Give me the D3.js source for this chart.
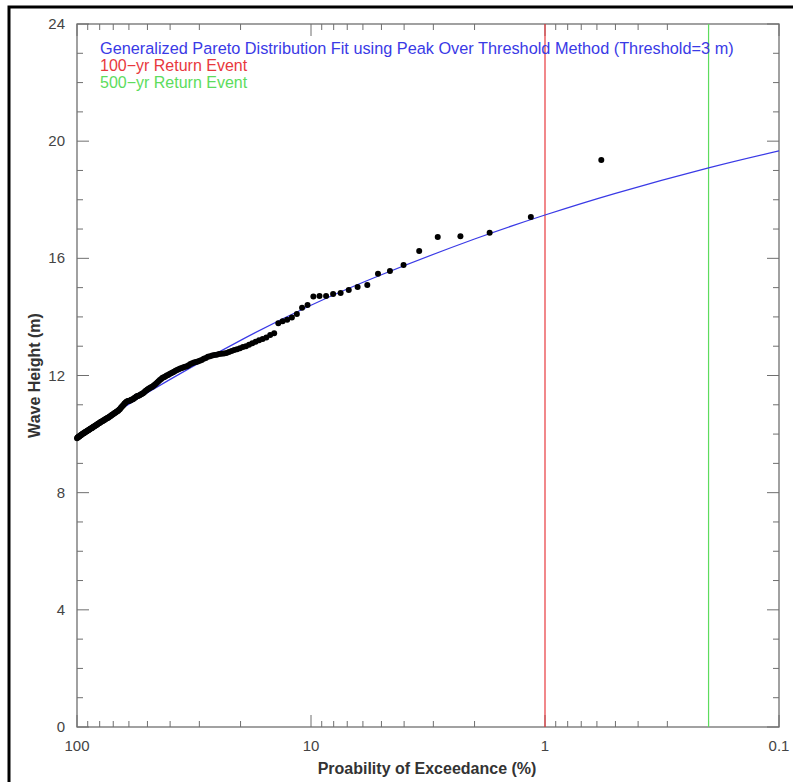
<!DOCTYPE html>
<html>
<head>
<meta charset="utf-8">
<script src="https://cdn.jsdelivr.net/npm/d3@7"></script>
<style>
  body { margin: 0; background: #fff; }
  text { font-family: "Liberation Sans", Arial, Helvetica, sans-serif; }
</style>
</head>
<body>
<div id="chart"></div>
<script>
// observed wave heights (m), sorted from largest to smallest (rank 1 = largest)
var heights = [
  19.36, 17.41, 16.87, 16.75, 16.73, 16.25, 15.77, 15.57, 15.47, 15.09,
  15.02, 14.92, 14.82, 14.78, 14.71, 14.71, 14.70, 14.41, 14.31,
  14.10, 13.98, 13.90, 13.85, 13.78,
  13.44, 13.38, 13.30, 13.25, 13.20, 13.15,
  13.10, 13.05, 13.00, 12.97, 12.93,
  12.90, 12.87, 12.84, 12.80, 12.77,
  12.75, 12.74, 12.73, 12.71, 12.70,
  12.68, 12.66, 12.64, 12.60, 12.57,
  12.53, 12.50, 12.48, 12.46, 12.44, 12.42, 12.39, 12.35, 12.32, 12.30,
  12.28, 12.26, 12.24, 12.21, 12.19,
  12.16, 12.13, 12.10, 12.08, 12.05,
  12.02, 12.00, 11.97, 11.94, 11.92, 11.88, 11.85,
  11.80, 11.76, 11.72, 11.68, 11.65, 11.62, 11.60,
  11.57, 11.55, 11.52, 11.49, 11.46, 11.42, 11.39,
  11.37, 11.35, 11.33, 11.31, 11.30, 11.28, 11.25, 11.23,
  11.20, 11.18, 11.17, 11.15, 11.14, 11.13, 11.12, 11.10,
  11.07, 11.04, 11.00, 10.97, 10.93, 10.90, 10.86, 10.83, 10.80,
  10.78, 10.76, 10.74, 10.72, 10.70, 10.68, 10.66, 10.64, 10.62, 10.60,
  10.58, 10.56, 10.55, 10.53, 10.52, 10.50, 10.48, 10.47, 10.45, 10.44, 10.42,
  10.41, 10.39, 10.37, 10.36, 10.34, 10.32, 10.31, 10.29, 10.28, 10.26, 10.25,
  10.23, 10.21, 10.20, 10.19, 10.17, 10.16, 10.14, 10.13, 10.11, 10.10, 10.09, 10.07,
  10.06, 10.04, 10.03, 10.02, 10.00, 9.99, 9.97, 9.96, 9.94, 9.92, 9.91, 9.90, 9.88, 9.86
];

// fitted GPD curve: exceedance (%) and height (m)
var fitProb   = [100, 50, 20, 10, 5, 2, 1, 0.5, 0.2, 0.1];
var fitHeight = [9.85, 11.41, 13.2, 14.4, 15.44, 16.66, 17.48, 18.22, 19.09, 19.67];

// return events (% exceedance)
var returnEvents = [
  {label: "100\u2212yr Return Event", prob: 1, color: "#e8383d"},
  {label: "500\u2212yr Return Event", prob: 0.2, color: "#5ddc5d"}
];
var fitLabel = "Generalized Pareto Distribution Fit using Peak Over Threshold Method (Threshold=3 m)";

var xTickValues = [100, 10, 1, 0.1];
var yTickValues = [0, 4, 8, 12, 16, 20, 24];

var width = 793, height = 782;
var plotL = 77, plotR = 779, plotT = 24, plotB = 727;

var svg = d3.select("#chart").append("svg")
    .attr("width", width)
    .attr("height", height);

var x = d3.scaleLog().domain([100, 0.1]).range([plotL, plotR]);
var y = d3.scaleLinear().domain([0, 24]).range([plotB, plotT]);

// minor ticks on the log axis
var minorX = [];
[10, 1, 0.1].forEach(function(d) {
  for (var k = 2; k <= 9; k++) minorX.push(d * k);
});
var minorY = d3.range(0, 25, 1).filter(function(v) { return v % 4 != 0; });

var axisColor = "#6f6f6f";
var g = svg.append("g");

// bottom / top ticks (pointing inward)
function tickLines(vals, len) {
  vals.forEach(function(v) {
    g.append("line").attr("x1", x(v)).attr("x2", x(v))
      .attr("y1", plotB).attr("y2", plotB - len)
      .attr("stroke", axisColor);
    g.append("line").attr("x1", x(v)).attr("x2", x(v))
      .attr("y1", plotT).attr("y2", plotT + len)
      .attr("stroke", axisColor);
  });
}
tickLines(xTickValues, 12);
tickLines(minorX, 6);

function tickLinesY(vals, len) {
  vals.forEach(function(v) {
    g.append("line").attr("x1", plotL).attr("x2", plotL + len)
      .attr("y1", y(v)).attr("y2", y(v))
      .attr("stroke", axisColor);
    g.append("line").attr("x1", plotR).attr("x2", plotR - len)
      .attr("y1", y(v)).attr("y2", y(v))
      .attr("stroke", axisColor);
  });
}
tickLinesY(yTickValues, 12);
tickLinesY(minorY, 6);

// plot box
g.append("rect")
  .attr("x", plotL).attr("y", plotT)
  .attr("width", plotR - plotL).attr("height", plotB - plotT)
  .attr("fill", "none")
  .attr("stroke", axisColor)
  .attr("stroke-width", 1.3);

// tick labels
g.selectAll(".xlab").data(xTickValues).enter().append("text")
  .attr("x", function(d) { return x(d); })
  .attr("y", 751)
  .attr("text-anchor", "middle")
  .attr("font-size", 15)
  .attr("fill", "#444")
  .text(function(d) { return d; });

g.selectAll(".ylab").data(yTickValues).enter().append("text")
  .attr("x", 65)
  .attr("y", function(d) { return y(d) + 5; })
  .attr("text-anchor", "end")
  .attr("font-size", 15)
  .attr("fill", "#444")
  .text(function(d) { return d; });

// axis titles
svg.append("text")
  .attr("x", 427).attr("y", 774)
  .attr("text-anchor", "middle")
  .attr("font-size", 16)
  .attr("font-weight", "bold")
  .attr("fill", "#333")
  .text("Proability of Exceedance (%)");

svg.append("text")
  .attr("transform", "translate(40," + ((plotT + plotB) / 2) + ") rotate(-90)")
  .attr("text-anchor", "middle")
  .attr("font-size", 16)
  .attr("font-weight", "bold")
  .attr("fill", "#333")
  .text("Wave Height (m)");

// return event lines
svg.selectAll(".ret").data(returnEvents).enter().append("line")
  .attr("x1", function(d) { return x(d.prob); })
  .attr("x2", function(d) { return x(d.prob); })
  .attr("y1", plotT).attr("y2", plotB)
  .attr("stroke", function(d) { return d.color; })
  .attr("stroke-width", 1.2);

// fitted curve
var fitData = fitProb.map(function(p, i) { return [p, fitHeight[i]]; });
svg.append("path")
  .datum(fitData)
  .attr("fill", "none")
  .attr("stroke", "#3a3ae6")
  .attr("stroke-width", 1.2)
  .attr("d", d3.line()
    .x(function(d) { return x(d[0]); })
    .y(function(d) { return y(d[1]); })
    .curve(d3.curveNatural));

// observed points, plotted at exceedance = rank / n
var n = heights.length;
svg.append("g").selectAll("circle")
  .data(heights)
  .enter().append("circle")
    .attr("cx", function(d, i) { return x(100 * (i + 1) / n); })
    .attr("cy", function(d) { return y(d); })
    .attr("r", 3)
    .attr("fill", "#000");

// legend texts
svg.append("text").attr("x", 100).attr("y", 54)
  .attr("font-size", 16.3).attr("fill", "#3a3ae6")
  .text(fitLabel);
svg.selectAll(".leg").data(returnEvents).enter().append("text")
  .attr("x", 100)
  .attr("y", function(d, i) { return 71 + 16.5 * i; })
  .attr("font-size", 16)
  .attr("fill", function(d) { return d.color; })
  .text(function(d) { return d.label; });

// outer frame (left and top edges)
svg.append("path")
  .attr("d", "M9,782V7H793")
  .attr("fill", "none")
  .attr("stroke", "#000")
  .attr("stroke-width", 3);
</script>
</body>
</html>
